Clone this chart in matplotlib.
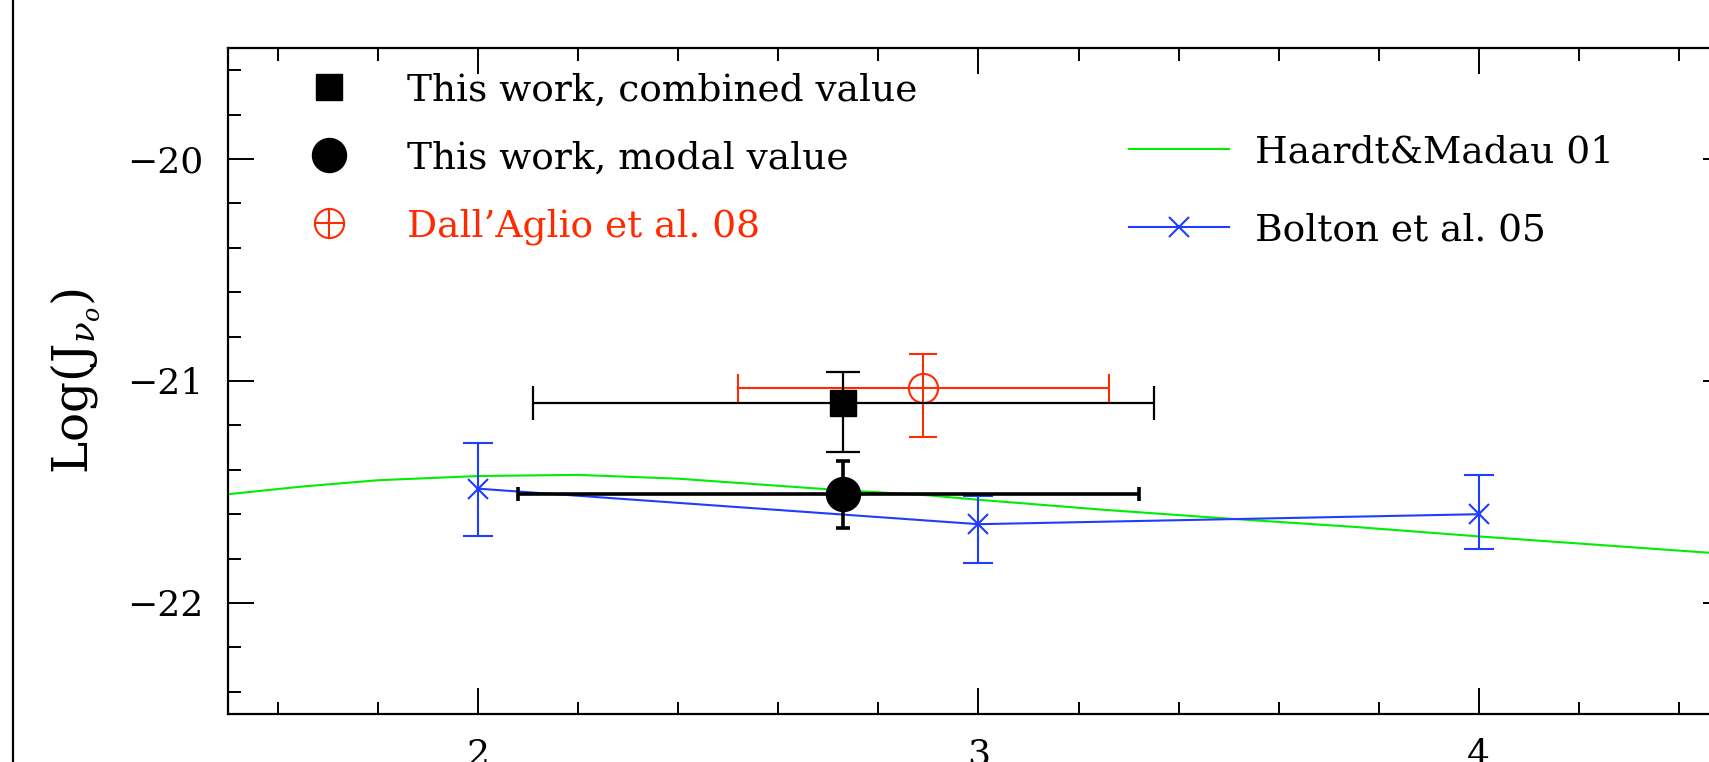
import numpy as np
import matplotlib
matplotlib.use("Agg")
import matplotlib.pyplot as plt
from matplotlib.lines import Line2D
from matplotlib.ticker import MultipleLocator

plt.rcParams['font.family'] = ['DejaVu Serif']
plt.rcParams['mathtext.fontset'] = 'dejavuserif'

# ---------------- data ----------------
# This work, combined value
comb_z = np.array([2.73]); comb_logJ = np.array([-21.10])
comb_z_lo = np.array([2.11]); comb_z_hi = np.array([3.35])
comb_logJ_lo = np.array([-21.32]); comb_logJ_hi = np.array([-20.96])

# This work, modal value
modal_z = np.array([2.73]); modal_logJ = np.array([-21.51])
modal_z_lo = np.array([2.08]); modal_z_hi = np.array([3.32])
modal_logJ_lo = np.array([-21.66]); modal_logJ_hi = np.array([-21.36])

# Dall'Aglio et al. 08
dall_z = np.array([2.89]); dall_logJ = np.array([-21.03])
dall_z_lo = np.array([2.52]); dall_z_hi = np.array([3.26])
dall_logJ_lo = np.array([-21.25]); dall_logJ_hi = np.array([-20.88])

# Bolton et al. 05
bolton_z = np.array([2.0, 3.0, 4.0])
bolton_logJ = np.array([-21.485, -21.645, -21.60])
bolton_logJ_lo = np.array([-21.70, -21.82, -21.757])
bolton_logJ_hi = np.array([-21.28, -21.52, -21.425])

# Haardt & Madau 01
hm_z = np.array([1.5, 1.65, 1.8, 2.0, 2.2, 2.4, 2.7, 2.9, 3.0, 3.25, 3.5, 3.75, 4.0, 4.25, 4.5])
hm_logJ = np.array([-21.51, -21.475, -21.447, -21.428, -21.423, -21.44, -21.488, -21.515,
                    -21.535, -21.58, -21.62, -21.657, -21.70, -21.74, -21.78])

labels_left = ["This work, combined value", "This work, modal value", "Dall\u2019Aglio et al. 08"]
labels_right = ["Haardt&Madau 01", "Bolton et al. 05"]

RED = '#ff2a00'
GREEN = '#00ee00'
BLUE = '#1f3dff'
FS = 27

# ---------------- figure ----------------
W, H = 1709, 762
fig = plt.figure(figsize=(W / 100, H / 100), dpi=100)
ax = fig.add_axes([228 / W, (H - 714) / H, 1501 / W, 666 / H])

ax.plot(hm_z, hm_logJ, color=GREEN, lw=1.5, zorder=2)
ax.errorbar(bolton_z, bolton_logJ,
            yerr=[bolton_logJ - bolton_logJ_lo, bolton_logJ_hi - bolton_logJ],
            color=BLUE, marker='x', ms=15, mew=1.5, lw=1.5, elinewidth=1.5,
            capsize=11, capthick=1.5, zorder=2)

ax.errorbar(dall_z, dall_logJ,
            xerr=[dall_z - dall_z_lo, dall_z_hi - dall_z],
            yerr=[dall_logJ - dall_logJ_lo, dall_logJ_hi - dall_logJ],
            fmt='o', mfc='none', mec=RED, color=RED, ms=21, mew=1.5,
            elinewidth=1.5, capsize=10, capthick=1.5, zorder=3)

ax.errorbar(comb_z, comb_logJ,
            xerr=[comb_z - comb_z_lo, comb_z_hi - comb_z],
            yerr=[comb_logJ - comb_logJ_lo, comb_logJ_hi - comb_logJ],
            fmt='s', color='black', ms=18.5, elinewidth=1.6,
            capsize=12.5, capthick=1.6, zorder=4)

ax.errorbar(modal_z, modal_logJ,
            xerr=[modal_z - modal_z_lo, modal_z_hi - modal_z],
            yerr=[modal_logJ - modal_logJ_lo, modal_logJ_hi - modal_logJ],
            fmt='o', color='black', ms=24.5, elinewidth=2.6,
            capsize=5, capthick=2.6, zorder=4)

ax.set_xlim(1.5, 4.5)
ax.set_ylim(-22.5, -19.5)
ax.xaxis.set_major_locator(MultipleLocator(1))
ax.xaxis.set_minor_locator(MultipleLocator(0.2))
ax.yaxis.set_major_locator(MultipleLocator(1))
ax.yaxis.set_minor_locator(MultipleLocator(0.2))
ax.tick_params(which='both', direction='in', top=True, right=True, width=1.4,
               labelsize=26)
ax.tick_params(which='major', length=19)
ax.tick_params(which='minor', length=9)
ax.tick_params(axis='y', which='major', pad=18)
ax.tick_params(axis='x', which='major', pad=17)
for s in ax.spines.values():
    s.set_linewidth(1.6)

ax.set_ylabel(r'$\mathrm{Log(J}_{\nu_{o}}\mathrm{)}$', fontsize=35)
ax.yaxis.set_label_coords(-0.083, 0.5)

# ---------------- legends ----------------
h_comb = Line2D([], [], ls='none', marker='s', color='black', ms=18.5)
h_modal = Line2D([], [], ls='none', marker='o', color='black', ms=24.5)
h_dall = (Line2D([], [], ls='none', marker='o', mfc='none', mec=RED, ms=21, mew=1.5),
          Line2D([], [], ls='none', marker='+', color=RED, ms=21, mew=1.5))
leg1 = ax.legend([h_comb, h_modal, h_dall], labels_left, loc='center left',
                 bbox_to_anchor=(0.042, 0.834), frameon=False, fontsize=FS,
                 handlelength=2.0, handletextpad=1.1, labelspacing=0.85,
                 borderpad=0, borderaxespad=0)
leg1.get_texts()[2].set_color(RED)
ax.add_artist(leg1)

h_hm = Line2D([], [], color=GREEN, lw=1.5)
h_bol = Line2D([], [], color=BLUE, lw=1.5, marker='x', ms=15, mew=1.5)
leg2 = ax.legend([h_hm, h_bol], labels_right, loc='center left',
                 bbox_to_anchor=(0.600, 0.785), frameon=False, fontsize=FS,
                 handlelength=2.68, handletextpad=0.7, labelspacing=1.12,
                 borderpad=0, borderaxespad=0)

# left frame line of the enclosing panel
fig.add_artist(Line2D([12.5 / W, 12.5 / W], [0, 1], transform=fig.transFigure,
                      color='black', lw=1.6))

fig.savefig('out.png', dpi=100)
